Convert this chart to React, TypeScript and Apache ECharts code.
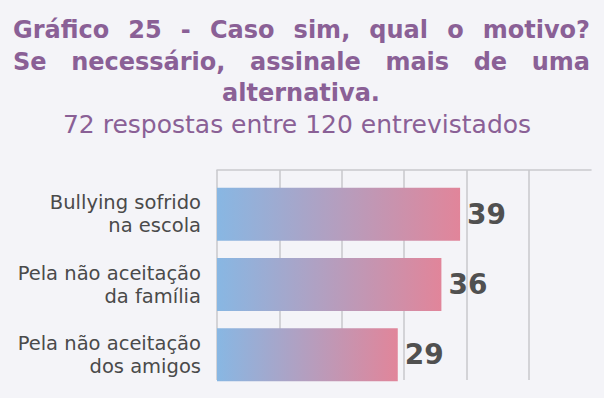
import React, { useEffect, useRef } from "react";
import * as echarts from "echarts";

const categories = ["Bullying sofrido\nna escola", "Pela não aceitação\nda família", "Pela não aceitação\ndos amigos"];
const values = [39, 36, 29];
const axisTicks = [0, 10, 20, 30, 40, 50, 60];
const titleLines = [
  "Gráfico 25 - Caso sim, qual o motivo?",
  "Se necessário, assinale mais de uma",
  "alternativa.",
];
const subtitle = "72 respostas entre 120 entrevistados";

const PURPLE = "#8a6096";
const TITLE_FONT = "DejaVu Sans";
const TITLE_SIZE = 24;

function measure(text: string, font: string): number {
  const c = document.createElement("canvas").getContext("2d");
  if (!c) return text.length * 14;
  c.font = font;
  return c.measureText(text).width;
}

function justifiedLine(text: string, y: number, left: number, right: number) {
  const words = text.split(" ");
  const font = `bold ${TITLE_SIZE}px "${TITLE_FONT}"`;
  const widths = words.map((w) => measure(w, font));
  const total = widths.reduce((a, b) => a + b, 0);
  const gap = words.length > 1 ? (right - left - total) / (words.length - 1) : 0;
  let x = left;
  return words.map((w, i) => {
    const el = {
      type: "text",
      x,
      y,
      style: {
        text: w,
        fill: PURPLE,
        font,
        textVerticalAlign: "middle",
        textAlign: "left",
      },
    };
    x += widths[i] + gap;
    return el;
  });
}

export default function App() {
  const ref = useRef<HTMLDivElement>(null);
  useEffect(() => {
    if (!ref.current) return;
    const chart = echarts.init(ref.current, undefined, { renderer: "svg" });
    const max = axisTicks[axisTicks.length - 1];
    const graphics: any[] = [
      ...justifiedLine(titleLines[0], 30, 13, 590),
      ...justifiedLine(titleLines[1], 62, 13, 590),
      {
        type: "text",
        x: 301,
        y: 93,
        style: {
          text: titleLines[2],
          fill: PURPLE,
          font: `bold ${TITLE_SIZE}px "${TITLE_FONT}"`,
          textAlign: "center",
          textVerticalAlign: "middle",
        },
      },
      {
        type: "text",
        x: 297,
        y: 124,
        style: {
          text: subtitle,
          fill: PURPLE,
          font: `normal 25px "${TITLE_FONT}"`,
          textAlign: "center",
          textVerticalAlign: "middle",
        },
      },
    ];
    chart.setOption({
      animation: false,
      backgroundColor: "#f4f4f8",
      grid: [
        { left: 217, right: 13, top: 179, bottom: 8 },
        { left: 217, right: 13, top: 170, bottom: 18 },
      ],
      xAxis: [
        {
          gridIndex: 0,
          type: "value",
          min: 0,
          max,
          interval: 10,
          show: false,
        },
        {
          gridIndex: 1,
          type: "value",
          position: "top",
          min: 0,
          max,
          interval: 10,
          axisLine: { show: true, lineStyle: { color: "#c9c9cd", width: 1.5 } },
          axisTick: { show: false },
          axisLabel: { show: false },
          splitLine: {
            show: true,
            lineStyle: {
              color: ["#c9c9cd", "#c9c9cd", "#c9c9cd", "#c9c9cd", "#c9c9cd", "#c9c9cd", "rgba(0,0,0,0)"],
              width: 1.5,
            },
          },
        },
      ],
      yAxis: [
        {
          gridIndex: 0,
          type: "category",
          data: categories,
          inverse: true,
          axisLine: { show: false },
          axisTick: { show: false },
          axisLabel: {
            color: "#4a4a4a",
            fontSize: 19.5,
            fontFamily: "DejaVu Sans",
            lineHeight: 23,
            align: "right",
            margin: 16,
          },
        },
        {
          gridIndex: 1,
          type: "category",
          data: categories,
          show: false,
        },
      ],
      series: [
        {
          type: "bar",
          xAxisIndex: 0,
          yAxisIndex: 0,
          data: values,
          barWidth: 53,
          itemStyle: {
            color: new echarts.graphic.LinearGradient(0, 0, 1, 0, [
              { offset: 0, color: "#88b7e3" },
              { offset: 1, color: "#e1859a" },
            ]),
          },
          label: {
            show: true,
            position: "right",
            distance: 7,
            color: "#505050",
            fontSize: 28,
            fontWeight: "bold",
            fontFamily: "DejaVu Sans",
          },
        },
      ],
      graphic: graphics,
    });
    return () => chart.dispose();
  }, []);
  return (
    <div
      ref={ref}
      style={{ position: "fixed", left: 0, top: 0, width: 604, height: 398 }}
    />
  );
}
